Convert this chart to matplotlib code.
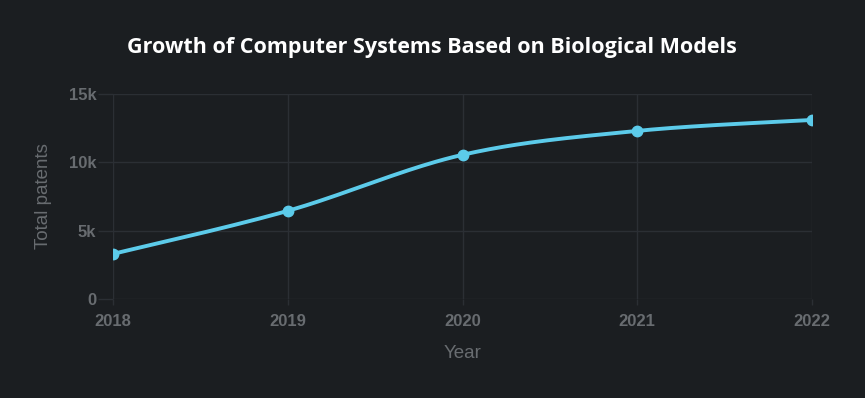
import numpy as np
import matplotlib
matplotlib.use("Agg")
import matplotlib.pyplot as plt
from matplotlib.ticker import FuncFormatter

years = [2018, 2019, 2020, 2021, 2022]
patents = [3300, 6450, 10550, 12300, 13100]

bg = "#1b1e21"
grid = "#2b2f34"
txt = "#686c70"
line = "#5ccbea"


def spline(x, y, n=40, s=0.5):
    # cardinal spline through points, for the smooth line only
    x = np.asarray(x, float)
    y = np.asarray(y, float)
    px, py = [], []
    for i in range(len(x) - 1):
        x0, y0 = (x[i - 1], y[i - 1]) if i > 0 else (x[i], y[i])
        x3, y3 = (x[i + 2], y[i + 2]) if i + 2 < len(x) else (x[i + 1], y[i + 1])
        mx1, my1 = s * (x[i + 1] - x0), s * (y[i + 1] - y0)
        mx2, my2 = s * (x3 - x[i]), s * (y3 - y[i])
        t = np.linspace(0, 1, n)
        h00 = 2 * t**3 - 3 * t**2 + 1
        h10 = t**3 - 2 * t**2 + t
        h01 = -2 * t**3 + 3 * t**2
        h11 = t**3 - t**2
        px.append(h00 * x[i] + h10 * mx1 + h01 * x[i + 1] + h11 * mx2)
        py.append(h00 * y[i] + h10 * my1 + h01 * y[i + 1] + h11 * my2)
    return np.concatenate(px), np.concatenate(py)


fig = plt.figure(figsize=(8.65, 3.98), dpi=100, facecolor=bg)
ax = fig.add_axes([113 / 865, 1 - 299 / 398, (812 - 113) / 865, (299 - 94) / 398])
ax.set_facecolor(bg)

sx, sy = spline(years, patents)
ax.plot(sx, sy, color=line, lw=2.8, solid_capstyle="round", zorder=3)
ax.plot(years, patents, "o", color=line, ms=7.5, zorder=4)

ax.set_xlim(2018, 2022)
ax.set_ylim(0, 15000)
ax.set_xticks(years)
ax.set_yticks([0, 5000, 10000, 15000])
ax.yaxis.set_major_formatter(FuncFormatter(lambda v, p: "0" if v == 0 else f"{int(v / 1000)}k"))
ax.grid(True, color=grid, lw=1)
ax.set_axisbelow(True)
for sp in ax.spines.values():
    sp.set_visible(False)

ax.tick_params(axis="y", length=11, width=1, color=grid, labelcolor=txt, labelsize=12, pad=1)
ax.tick_params(axis="x", length=4, width=1, color=grid, labelcolor=txt, labelsize=12, pad=7)
for lab in ax.get_xticklabels() + ax.get_yticklabels():
    lab.set_fontfamily("Liberation Sans")
    lab.set_fontweight("semibold")

ax.set_xlabel("Year", color=txt, fontsize=13.5, family="Liberation Sans", labelpad=11)
ax.set_ylabel("Total patents", color=txt, fontsize=13.5, family="Liberation Sans", labelpad=12)

fig.text(432 / 865, 1 - 47 / 398, "Growth of Computer Systems Based on Biological Models",
         ha="center", va="center", color="white", fontsize=15.5, fontweight="bold",
         family="Open Sans")

fig.savefig("out.png", dpi=100, facecolor=bg)
